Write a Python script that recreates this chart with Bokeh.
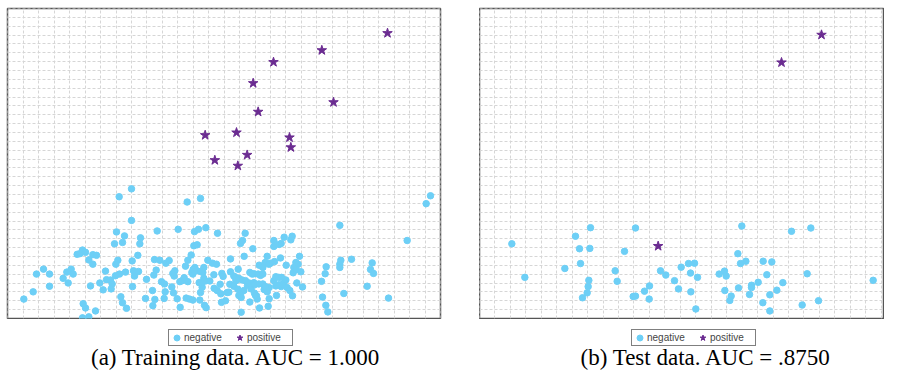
from bokeh.plotting import figure
from bokeh.models import Range1d, Grid, FixedTicker, Legend, LegendItem, Label
from bokeh.layouts import row, column
from bokeh.embed import file_html
from bokeh.resources import INLINE

# ---------------- data (arbitrary feature units) ----------------
train_neg_x = [393, 356, 560, 600, 1290, 1277, 393, 1018, 1220, 348, 372, 366, 342, 420, 418, 470, 533, 582, 594, 616,
               651, 734, 720, 726, 757, 820, 820, 836, 842, 851, 871, 875, 580, 590, 230, 238, 246, 255, 277, 288,
               265, 277, 352, 346, 412, 395, 462, 478, 496, 506, 572, 562, 555, 583, 610, 622, 636, 648, 690, 731,
               800, 840, 776, 787, 794, 810, 822, 857, 897, 886, 880, 878, 901, 889, 906, 1053, 1021, 1018, 1018, 1115,
               1110, 1119, 977, 974, 963, 1100, 1030, 966, 976, 982, 1164, 108, 129, 147, 147, 98, 70, 188, 199, 212,
               218, 203, 270, 298, 315, 308, 318, 330, 335, 332, 345, 357, 375, 396, 399, 402, 414, 438, 456, 460,
               467, 483, 492, 494, 491, 514, 519, 517, 523, 521, 538, 545, 551, 562, 530, 539, 557, 567, 577, 598,
               600, 605, 603, 596, 610, 615, 628, 640, 641, 650, 659, 661, 663, 675, 680, 688, 690, 713, 700, 706,
               700, 712, 715, 722, 730, 741, 746, 760, 748, 760, 773, 780, 752, 762, 768, 770, 748, 777, 787, 791,
               800, 806, 806, 803, 820, 826, 826, 842, 850, 856, 860, 868, 876, 828, 612, 617, 722, 574, 577, 578,
               588, 600, 607, 248, 255, 285, 246, 265, 361, 366, 378, 435, 457, 463, 664, 668, 685, 720, 765, 705,
               715, 725, 735, 763, 775, 795, 835, 843, 837, 805, 893, 887, 755, 787]
train_neg_y = [394, 370, 354, 365, 373, 349, 298, 283, 237, 263, 251, 231, 227, 245, 227, 266, 271, 264, 271, 276,
               259, 259, 228, 237, 212, 237, 219, 225, 228, 247, 239, 250, 221, 224, 195, 197, 208, 201, 194, 192,
               178, 165, 177, 165, 192, 175, 179, 177, 168, 176, 193, 177, 159, 155, 155, 177, 168, 165, 181, 189,
               189, 184, 162, 155, 170, 168, 173, 162, 189, 170, 155, 139, 142, 108, 96, 180, 177, 165, 155, 169,
               149, 137, 157, 136, 113, 98, 76, 65, 40, 20, 62, 135, 150, 135, 98, 81, 59, 122, 141, 150,
               135, 108, 99, 108, 144, 87, 118, 117, 105, 90, 130, 135, 141, 97, 145, 129, 143, 119, 85, 132,
               147, 112, 105, 81, 61, 96, 78, 137, 145, 129, 112, 115, 124, 112, 60, 34, 62, 59, 56, 56,
               79, 95, 108, 109, 122, 114, 114, 133, 92, 85, 104, 75, 49, 54, 79, 104, 142, 150, 129, 115,
               98, 89, 70, 64, 85, 100, 108, 109, 140, 136, 135, 131, 90, 77, 69, 59, 50, 32, 105, 88,
               81, 94, 60, 37, 115, 127, 99, 97, 107, 117, 94, 85, 69, 70, 40, 33, 19, 140, 135, 149,
               145, 143, 140, 45, 32, 23, 2, 5, 66, 48, 31, 61, 39, 58, 137, 128, 80, 72, 70, 125,
               122, 117, 115, 103, 105, 97, 125, 125, 103, 165, 165, 149, 135, 135]
train_pos_x = [1161, 964, 819, 758, 999, 773, 614, 708, 867, 871, 740, 643, 712]
train_pos_y = [867, 815, 779, 715, 657, 628, 557, 565, 550, 520, 497, 481, 464]

test_neg_x = [184, 223, 343, 375, 387, 390, 420, 418, 415, 413, 410, 396, 494, 500, 522, 555, 548, 555, 582, 597,
              596, 630, 646, 672, 684, 692, 714, 732, 720, 741, 721, 736, 806, 822, 827, 823, 842, 838, 862, 870,
              886, 874, 864, 897, 903, 903, 923, 938, 964, 949, 937, 958, 958, 979, 997, 1023, 1081, 1070, 1055, 1104,
              1268]
test_neg_y = [227, 125, 152, 250, 212, 167, 276, 213, 116, 97, 78, 63, 145, 113, 204, 275, 67, 68, 83, 99,
              59, 145, 132, 115, 90, 156, 167, 168, 138, 125, 81, 29, 135, 144, 129, 85, 68, 55, 197, 167,
              174, 281, 93, 73, 101, 94, 110, 174, 172, 133, 48, 72, 23, 86, 109, 265, 275, 136, 41, 54,
              116]
test_pos_x = [1113, 993, 623]
test_pos_y = [862, 778, 220]

captions = ["(a) Training data. AUC = 1.000", "(b) Test data. AUC = .8750"]
legend_labels = ["negative", "positive"]

# ---------------- style ----------------
NEG = "#6dcff6"
POS = "#6b2c91"
CELL_X = 46.36   # grid spacing in feature units
CELL_Y = 26.914
TOP_H = 319
BOT_H = 52


def make_panel(nx, ny, px, py, width, xr, x0, mbl, mbr):
    p = figure(width=width, height=TOP_H, x_range=Range1d(*xr), y_range=Range1d(0, 942),
               x_axis_type=None, y_axis_type=None, output_backend="svg", toolbar_location=None,
               min_border_left=mbl, min_border_right=mbr, min_border_top=8, min_border_bottom=1,
               outline_line_color="#555555", outline_line_width=1.5,
               background_fill_color="white", border_fill_color="white")
    xt = [x0 + k * CELL_X for k in range(0, 30)]
    yt = [k * CELL_Y for k in range(0, 36)]
    p.add_layout(Grid(dimension=0, ticker=FixedTicker(ticks=xt), grid_line_color="#d6d6d6",
                      grid_line_dash="3 2", grid_line_width=1))
    p.add_layout(Grid(dimension=1, ticker=FixedTicker(ticks=yt), grid_line_color="#d6d6d6",
                      grid_line_dash="3 2", grid_line_width=1))
    p.scatter(nx, ny, marker="circle", size=6.5, fill_color=NEG, line_color=NEG)
    p.scatter(px, py, marker="star", size=10, fill_color=POS, line_color=POS)
    return p


def make_footer(width, caption, nx, ny, px, py, leg_x, cap_x):
    q = figure(width=width, height=BOT_H, x_range=Range1d(0, width), y_range=Range1d(0, BOT_H),
               x_axis_type=None, y_axis_type=None, output_backend="svg", toolbar_location=None,
               min_border=0, outline_line_color=None,
               background_fill_color="white", border_fill_color="white")
    q.xgrid.visible = False
    q.ygrid.visible = False
    # the legend's renderers carry the same series, mapped to a range that lies off-screen
    q.extra_x_ranges = {"off": Range1d(-20000, -19000)}
    r1 = q.scatter(nx, ny, marker="circle", size=6.5, fill_color=NEG, line_color=NEG, x_range_name="off")
    r2 = q.scatter(px, py, marker="star", size=10, fill_color=POS, line_color=POS, x_range_name="off")
    leg = Legend(items=[LegendItem(label=legend_labels[0], renderers=[r1]),
                        LegendItem(label=legend_labels[1], renderers=[r2])],
                 orientation="horizontal", location=(leg_x, 25),
                 label_text_font="Liberation Sans", label_text_font_size="10px",
                 glyph_width=15, glyph_height=15, label_height=12, label_width=45,
                 label_standoff=0, spacing=3, padding=0, margin=0,
                 border_line_color="black", border_line_width=1, background_fill_color="white",
                 background_fill_alpha=1)
    q.add_layout(leg)
    q.add_layout(Label(x=cap_x, y=2, text=caption, text_align="center", text_baseline="bottom",
                       text_font="Liberation Serif", text_font_size="23px", text_color="black"))
    return q


p1 = make_panel(train_neg_x, train_neg_y, train_pos_x, train_pos_y, 479, (21, 1320), 22, 7, 39)
p2 = make_panel(test_neg_x, test_neg_y, test_pos_x, test_pos_y, 405, (87, 1302), 86.7, 0, 0)
f1 = make_footer(479, captions[0], train_neg_x, train_neg_y, train_pos_x, train_pos_y, 168, 235.5)
f2 = make_footer(405, captions[1], test_neg_x, test_neg_y, test_pos_x, test_pos_y, 152, 226.5)

layout = column(row(p1, p2), row(f1, f2))
open("out.html", "w").write(file_html(layout, INLINE))
